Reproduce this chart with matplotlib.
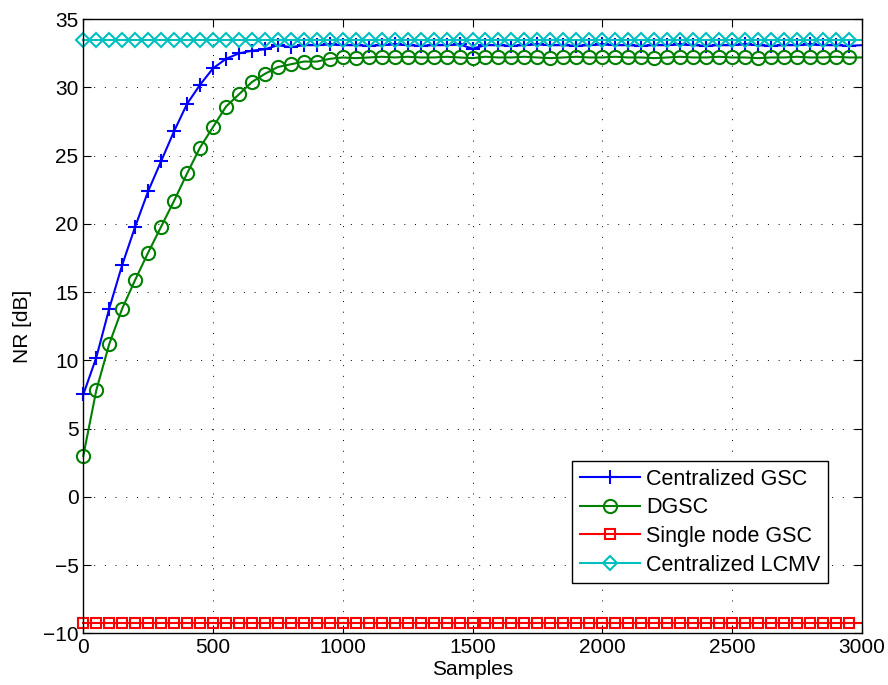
import numpy as np
import matplotlib
matplotlib.use("Agg")
import matplotlib.pyplot as plt

plt.rcParams['font.family'] = ['Liberation Sans', 'DejaVu Sans']

samples = list(range(0, 3001, 50))

centralized_gsc = [
    7.5, 10.2, 13.8, 17.0, 19.8, 22.4, 24.6, 26.8, 28.8, 30.2,
    31.4, 32.1, 32.5, 32.7, 32.8, 33.1, 32.95, 33.1, 33.1, 33.15,
    33.1, 33.1, 33.05, 33.1, 33.15, 33.1, 33.05, 33.1, 33.1, 33.15,
    32.85, 33.1, 33.1, 33.05, 33.1, 33.15, 33.1, 33.1, 33.05, 33.1,
    33.15, 33.1, 33.1, 33.05, 33.1, 33.1, 33.15, 33.1, 33.05, 33.1,
    33.1, 33.15, 33.1, 33.05, 33.1, 33.1, 33.15, 33.1, 33.1, 33.05,
    33.1,
]

dgsc = [
    3.0, 7.8, 11.2, 13.8, 15.9, 17.9, 19.8, 21.7, 23.7, 25.6,
    27.1, 28.6, 29.5, 30.4, 31.0, 31.5, 31.7, 31.9, 31.9, 32.1,
    32.2, 32.15, 32.2, 32.25, 32.2, 32.25, 32.2, 32.2, 32.25, 32.2,
    32.15, 32.25, 32.2, 32.2, 32.25, 32.2, 32.15, 32.2, 32.25, 32.2,
    32.2, 32.25, 32.2, 32.2, 32.15, 32.2, 32.25, 32.2, 32.2, 32.25,
    32.2, 32.2, 32.15, 32.2, 32.2, 32.25, 32.2, 32.2, 32.25, 32.2,
    32.2,
]

single_node_gsc = [-9.25] * len(samples)
centralized_lcmv = [33.45] * len(samples)

labels = ['Centralized GSC', 'DGSC', 'Single node GSC', 'Centralized LCMV']

fig = plt.figure(figsize=(8.88, 6.85), dpi=100)
ax = fig.add_axes([0.0938, 0.0755, 0.8766, 0.8964])

mk = slice(0, 60)
lw = 1.5
ax.plot(samples, centralized_gsc, color=(0, 0, 1), lw=lw, marker='+', ms=10,
        mew=1.5, markevery=mk, clip_on=False, label=labels[0])
ax.plot(samples, dgsc, color=(0, 0.5, 0), lw=lw, marker='o', ms=9.5,
        mfc='none', mew=1.5, markevery=mk, clip_on=False, label=labels[1])
ax.plot(samples, single_node_gsc, color=(1, 0, 0), lw=lw, marker='s', ms=7,
        mfc='none', mew=1.5, markevery=mk, clip_on=False, label=labels[2])
ax.plot(samples, centralized_lcmv, color=(0, 0.75, 0.75), lw=lw, marker='D', ms=6.8,
        mfc='none', mew=1.5, markevery=mk, clip_on=False, label=labels[3])

ax.set_xlim(0, 3000)
ax.set_ylim(-10, 35)
ax.set_xticks(range(0, 3001, 500))
ax.set_yticks(range(-10, 36, 5))
ax.set_yticklabels(['\u221210', '\u22125'] + [str(v) for v in range(0, 36, 5)])

ax.grid(True, color='black', linestyle=(0, (1, 10)), linewidth=0.7)
ax.tick_params(direction='in', top=True, right=True, length=6, width=0.8,
               labelsize=15)
for s in ax.spines.values():
    s.set_linewidth(1.0)

ax.set_xlabel('Samples', fontsize=15, labelpad=2)
ax.set_ylabel('NR [dB]', fontsize=15, labelpad=8)

leg = ax.legend(loc='lower right', bbox_to_anchor=(0.957, 0.0814),
                borderaxespad=0, fontsize=15.5, fancybox=False, framealpha=1,
                edgecolor='black', handlelength=2.8, handletextpad=0.3,
                labelspacing=0.36, borderpad=0.35)
leg.get_frame().set_linewidth(1.0)

fig.savefig('out.png', dpi=100)
